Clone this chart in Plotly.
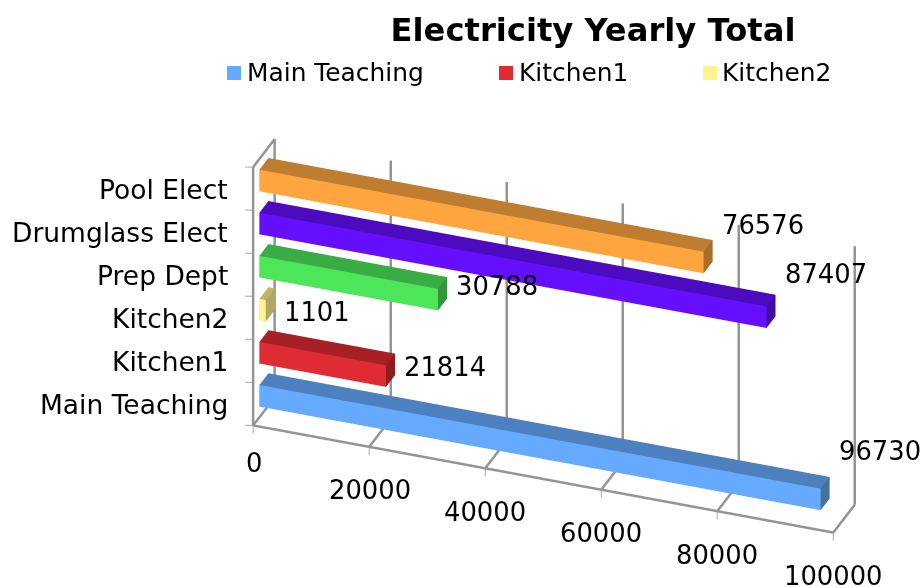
import plotly.graph_objects as go

TITLE = "Electricity Yearly Total"
categories = ["Main Teaching", "Kitchen1", "Kitchen2", "Prep Dept", "Drumglass Elect", "Pool Elect"]
values = [96730, 21814, 1101, 30788, 87407, 76576]
x_ticks = [0, 20000, 40000, 60000, 80000, 100000]
legend_names = ["Main Teaching", "Kitchen1", "Kitchen2"]
front_colors = ["#66AAFF", "#DF2B33", "#FFF38F", "#4DE55A", "#660FFF", "#FFA540"]
top_colors = ["#4D80BF", "#A72025", "#BFB66B", "#3AAC44", "#4D0BBF", "#BF7D30"]
side_colors = ["#44719F", "#8F1B20", "#AFA762", "#33963B", "#440AA8", "#A86D2A"]

AX = "#949494"
FONT = "DejaVu Sans"
AXIS_PX = 26.5
VAL_PX = 25.8
LEG_PX = 24.9
Y0, Y1 = 0.29, 0.71


def box(i, v):
    z0, z1 = i + 0.25, i + 0.75
    xs = [0, v, v, 0, 0, v, v, 0]
    ys = [Y0, Y0, Y1, Y1, Y0, Y0, Y1, Y1]
    zs = [z0, z0, z0, z0, z1, z1, z1, z1]
    tri = [
        (0, 1, 5, front_colors[i]), (0, 5, 4, front_colors[i]),
        (4, 5, 6, top_colors[i]), (4, 6, 7, top_colors[i]),
        (1, 2, 6, side_colors[i]), (1, 6, 5, side_colors[i]),
        (0, 3, 7, side_colors[i]), (0, 7, 4, side_colors[i]),
        (3, 2, 6, side_colors[i]), (3, 6, 7, side_colors[i]),
        (0, 1, 2, side_colors[i]), (0, 2, 3, side_colors[i]),
    ]
    return go.Mesh3d(
        x=xs, y=ys, z=zs,
        i=[t[0] for t in tri], j=[t[1] for t in tri], k=[t[2] for t in tri],
        facecolor=[t[3] for t in tri], flatshading=True,
        lighting=dict(ambient=1, diffuse=0, specular=0, fresnel=0, roughness=1),
        name=categories[i], showlegend=False, hoverinfo="name+x",
    )


def line(xs, ys, zs, width=5, color=AX):
    return go.Scatter3d(x=xs, y=ys, z=zs, mode="lines", line=dict(color=color, width=width),
                        showlegend=False, hoverinfo="skip")


n = len(categories)
xmax = x_ticks[-1]
fig = go.Figure()
for i, v in enumerate(values):
    fig.add_trace(box(i, v))

# walls and floor
fig.add_trace(line([0, xmax], [0, 0], [0, 0]))
fig.add_trace(line([0, 0], [0, 0], [0, n]))
fig.add_trace(line([0, 0], [1, 1], [0, n]))
fig.add_trace(line([0, 0], [0, 1], [n, n]))
for t in x_ticks:
    fig.add_trace(line([t, t], [0, 1], [0, 0]))
    if t > 0:
        fig.add_trace(line([t, t], [1, 1], [0, n]))
    fig.add_trace(line([t, t], [0, 0], [0, -0.19], width=2, color="#A8A8A8"))
for k in range(n + 1):
    fig.add_trace(line([0, -1380], [0, 0], [k, k - 0.035], width=2, color="#A8A8A8"))

annotations = []
for t in x_ticks:
    annotations.append(dict(x=t, y=0, z=0, text=str(t), showarrow=False, xanchor="center",
                            yanchor="middle", yshift=-38 if t == 0 else -43.5,
                            font=dict(family=FONT, size=VAL_PX, color="black")))
for i, c in enumerate(categories):
    annotations.append(dict(x=0, y=0, z=i + 0.5, text=c, showarrow=False, xanchor="right",
                            yanchor="middle", xshift=-24, yshift=-1, font=dict(family=FONT, size=AXIS_PX, color="black")))
for i, v in enumerate(values):
    annotations.append(dict(x=v, y=Y0, z=i + 0.5, text=str(v), showarrow=False, xanchor="left",
                            yanchor="middle", xshift=16, yshift=0.52 * v / 1000 - 2,
                            font=dict(family=FONT, size=VAL_PX, color="black")))

hidden = dict(visible=False, showgrid=False, zeroline=False, showline=False, showticklabels=False,
              showbackground=False, showspikes=False, title="")

R = 3.0
S = 2.60
fig.update_layout(
    width=922, height=587, margin=dict(l=0, r=0, t=0, b=0),
    paper_bgcolor="white", showlegend=False,
    title=dict(text=TITLE, x=593 / 922, xanchor="center", y=1 - 30 / 587, yanchor="middle",
               font=dict(family=FONT, size=32.2, color="black", weight="bold")),
    scene=dict(
        domain=dict(x=[0.2022, 1.0], y=[0.0015, 0.847]),
        xaxis=dict(hidden, range=[-2000, 102000]),
        yaxis=dict(hidden, range=[-0.02, 1.02]),
        zaxis=dict(hidden, range=[-0.2, 6.1]),
        aspectmode="manual",
        aspectratio=dict(x=1 * S, y=0.0983 * S, z=0.4826 * S),
        camera=dict(projection=dict(type="orthographic"),
                    up=dict(x=0, y=0, z=1), center=dict(x=0, y=0, z=0),
                    eye=dict(x=0.3075 * R, y=-0.8157 * R, z=0.490 * R)),
        annotations=annotations,
    ),
)

# legend keys and labels
leg_x = [227, 499, 703]
leg_text_x = [245, 517, 720]
shapes = []
paper_ann = []
for name, px, tx in zip(legend_names, leg_x, leg_text_x):
    col = front_colors[categories.index(name)]
    shapes.append(dict(type="rect", xref="paper", yref="paper", x0=px / 922, x1=(px + 14) / 922,
                       y0=1 - 80 / 587, y1=1 - 66 / 587, fillcolor=col, line=dict(width=0)))
    paper_ann.append(dict(xref="paper", yref="paper", x=tx / 922, y=1 - 73 / 587, text=name,
                          showarrow=False, xanchor="left", yanchor="middle",
                          font=dict(family=FONT, size=LEG_PX, color="black")))
fig.update_layout(shapes=shapes, annotations=paper_ann)
fig.write_html("out.html", post_script="document.body.style.margin='0';",
               config=dict(displayModeBar=False))
